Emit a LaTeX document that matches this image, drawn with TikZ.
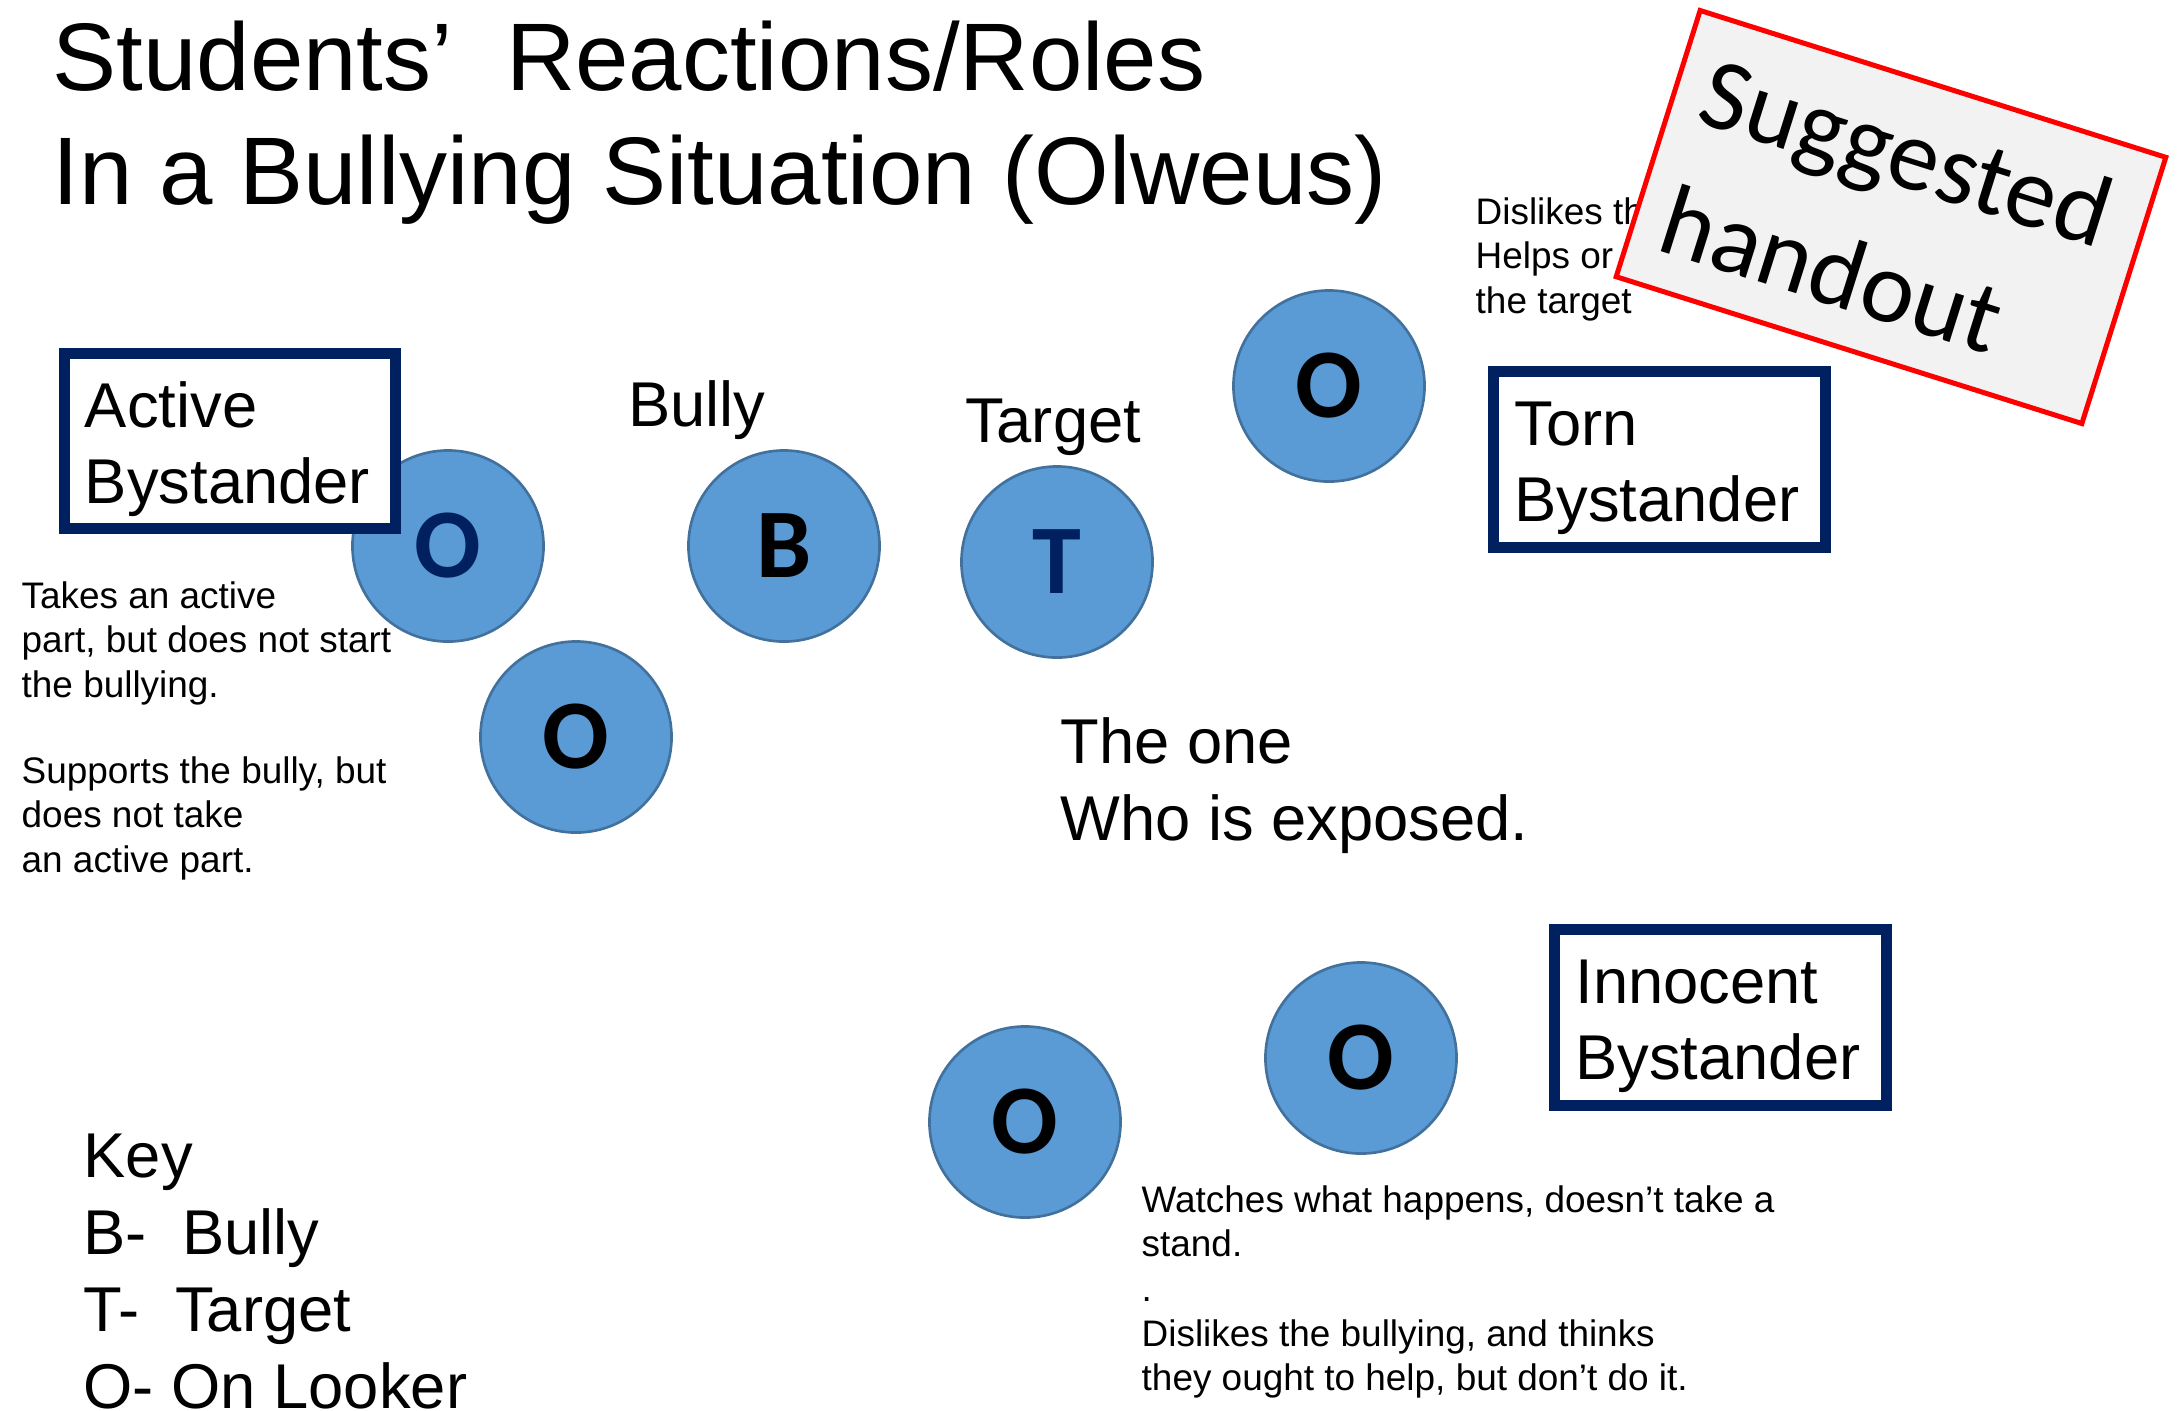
\documentclass[tikz,border=0pt]{standalone}
\usepackage{fontspec}
\setmainfont{Liberation Sans}
\newfontfamily\calib{Carlito}
\usetikzlibrary{positioning}
\definecolor{navy}{RGB}{0,32,96}
\definecolor{ballfill}{RGB}{91,155,213}
\definecolor{ballline}{RGB}{65,113,156}
\definecolor{cardgray}{RGB}{242,242,242}
\newcommand{\boxtop}{\rule{0pt}{17.4pt}}

\begin{document}
\begin{tikzpicture}[x=0.01cm,y=-0.01cm,every node/.style={inner sep=0pt},
  ball/.style={circle,draw=ballline,line width=0.75pt,fill=ballfill,minimum size=1.91cm,font=\calib\bfseries\fontsize{28}{28}\selectfont},
  rolebox/.style={draw=navy,line width=0.11cm,fill=white,minimum width=3.31cm,minimum height=1.75cm,inner xsep=0.205cm,text width=2.9cm,align=left,font=\fontsize{18}{21.6}\selectfont},
  big/.style={font=\fontsize{18}{21.8}\selectfont,align=left},
  small/.style={font=\fontsize{10.5}{12.7}\selectfont,align=left,anchor=north west},
  handout/.style={draw=red,line width=0.05cm,fill=cardgray,minimum width=4.88cm,minimum height=2.79cm,inner xsep=0.28cm,text width=4.32cm,align=left,rotate=-17.5,font=\calib\fontsize{29}{38}\selectfont}]
  \useasboundingbox (0,0) rectangle (2177,1411);

  \node[anchor=north west,align=left,font=\fontsize{27.3}{32.5}\selectfont] (title) at (52,20) {Students’\ \ Reactions/Roles\\In a Bullying Situation (Olweus)};

  \node[ball,text=navy] (o1) at (448,546) {O};
  \node[ball] (o2) at (576,737) {O};
  \node[ball] (bully) at (784,546) {B};
  \node[ball,text=navy] (target) at (1057,562) {T};
  \node[ball] (otop) at (1329,386) {O};
  \node[ball] (oleft) at (1025,1122) {O};
  \node[ball] (oright) at (1361,1058) {O};

  \node[rolebox] (active) at (230,441) {\boxtop Active\\Bystander};
  \node[rolebox] (torn) at (1659.5,459.5) {\boxtop Torn\\Bystander};
  \node[rolebox] (innocent) at (1720.5,1017.5) {\boxtop Innocent\\Bystander};

  \node[big,anchor=base] (bullytxt) at (697,426) {Bully};
  \node[big,anchor=base] (targettxt) at (1053,442) {Target};
  \node[big,anchor=north west] (exposed) at (1060,717) {The one\\Who is exposed.};
  \node[big,anchor=north west,font=\fontsize{18}{21.9}\selectfont] (key) at (83,1133) {Key\\B-\ \ Bully\\T-\ \ Target\\O- On Looker};

  \node[small] (activenote) at (21,580.6) {Takes an active\\part, but does not start\\the bullying.\\[11.7pt]Supports the bully, but\\does not take\\an active part.};
  \node[small] (tornnote) at (1475,196.6) {Dislikes th\\Helps or\\the target};
  \node[small] (innocentnote) at (1141,1184.6) {Watches what happens, doesn’t take a\\stand.\\.\\Dislikes the bullying, and thinks\\they ought to help, but don’t do it.};

  \node[handout] (card) at (1891,217) {Suggested\\handout};
\end{tikzpicture}
\end{document}
